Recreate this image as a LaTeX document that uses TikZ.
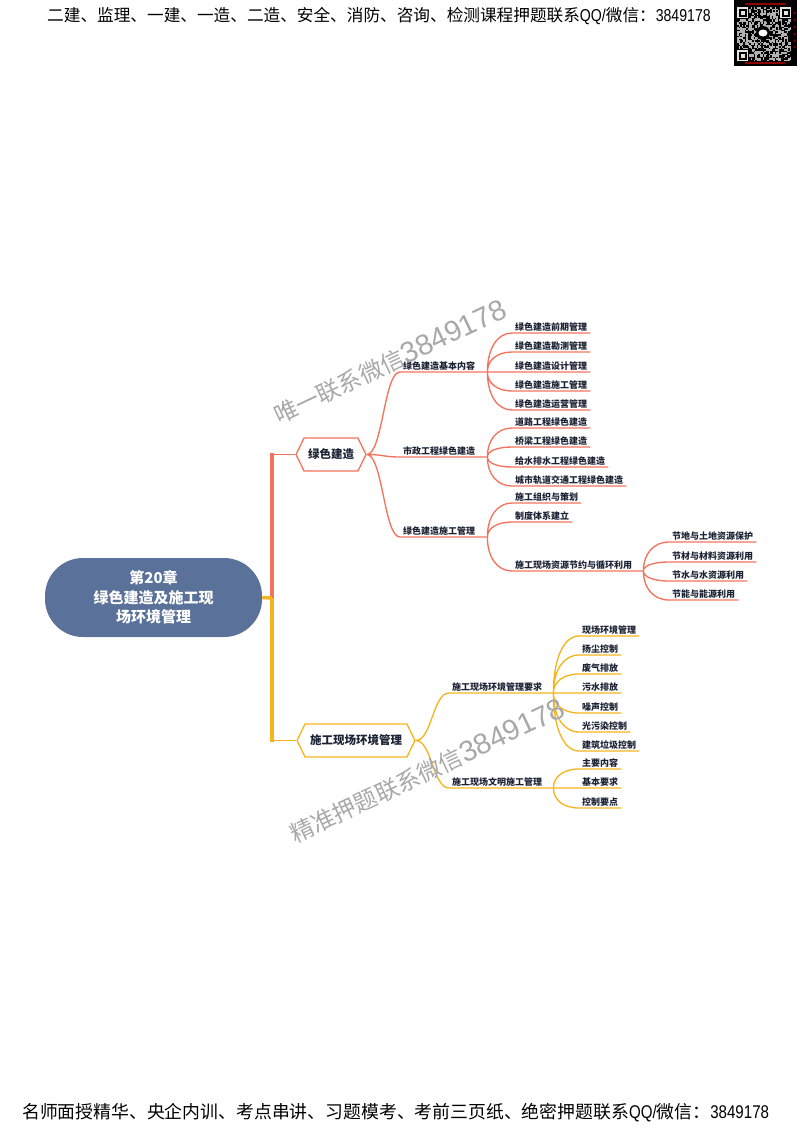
\documentclass[tikz,border=0pt]{standalone}
\usepackage{fontspec}
\usepackage{xcolor}
\usetikzlibrary{shapes.symbols, calc}
\setmainfont{Noto Sans CJK SC}
\newfontfamily\latincond{Liberation Sans}[FakeStretch=0.82]
\newfontfamily\latinsans{Liberation Sans}
\definecolor{rootblue}{HTML}{5A7199}
\definecolor{redline}{HTML}{F4735F}
\definecolor{yellowline}{HTML}{F6B51E}
\definecolor{inkdark}{HTML}{1B2233}
\definecolor{markgray}{HTML}{A8A8A8}
\tikzset{
  root/.style={fill=rootblue, text=white, rounded corners=38pt, minimum width=217pt, minimum height=79pt, align=center, font=\fontsize{15}{19.5}\selectfont\bfseries, inner sep=0pt},
  hexbox/.style={signal, signal to=west and east, signal pointer angle=128, fill=white, line width=1.3pt, minimum height=33pt, inner xsep=2pt, inner ysep=0pt, text=inkdark, font=\fontsize{11.5}{13}\selectfont\bfseries},
  leaf/.style={anchor=south west, inner xsep=3pt, inner ysep=1.5pt, text=inkdark, font=\fontsize{9}{10}\selectfont\bfseries},
  branch/.style={to path={.. controls +(16,0) and +(-16,0) .. (\tikztotarget.south west) -- (\tikztotarget.south east)}},
  forkline/.style={to path={.. controls ($(\tikztostart)!0.6!(\tikztostart |- \tikztotarget.south west)$) and ($(\tikztotarget.south west)!0.6!(\tikztostart |- \tikztotarget.south west)$) .. (\tikztotarget.south west) -- (\tikztotarget.south east)}},
  redthin/.style={draw=redline, line width=1.35pt},
  yellowthin/.style={draw=yellowline, line width=1.35pt},
  watermark/.style={anchor=south west, rotate=25.3, text=markgray, inner sep=0pt},
  banner/.style={anchor=west, inner sep=0pt, text=black}
}
\begin{document}
\begin{tikzpicture}[x=1pt, y=1pt]
\useasboundingbox (0,0) rectangle (800,-1130);

% banners
\node[banner, font=\fontsize{16.65}{18}\selectfont] (topline) at (47,-16) {二建、监理、一建、一造、二造、安全、消防、咨询、检测课程押题联系{\latincond\fontsize{17.2}{18}\selectfont QQ/}微信：{\latincond\fontsize{17.2}{18}\selectfont 3849178}};
\node[banner, font=\fontsize{17.85}{19}\selectfont] (bottomline) at (22,-1113) {名师面授精华、央企内训、考点串讲、习题模考、考前三页纸、绝密押题联系{\latincond\fontsize{18.4}{19}\selectfont QQ/}微信：{\latincond\fontsize{18.4}{19}\selectfont 3849178}};

% qr code
\fill[black] (734,0) rectangle (797,-66);
\pgfmathsetseed{20}
\foreach \i in {0,...,35}{
  \foreach \j in {0,...,35}{
    \pgfmathparse{rnd>0.5 ? 1 : 0}
    \ifnum\pgfmathresult=1
      \fill[white!70!black] ({737+\i*1.5},{-7-\j*1.5}) rectangle ++(1.5,-1.5);
    \fi
  }
}
\foreach \a/\b in {737/-7,780/-7,737/-50}{
  \fill[black] (\a-1,\b+1) rectangle ++(13,-13);
  \fill[white!90!black] (\a,\b) rectangle ++(11,-11);
  \fill[black] (\a+1.5,\b-1.5) rectangle ++(8,-8);
  \fill[white!90!black] (\a+3.5,\b-3.5) rectangle ++(4,-4);
}
\fill[black] (763,-33) circle (7);
\fill[white] (763,-33) ellipse (4.5 and 3.5);
\fill[red!55!black] (745,-2.5) rectangle (785,-4.5);
\fill[red!55!black] (745,-62) rectangle (785,-64);
\foreach \k in {13,20,27,34,41,47}{
  \fill[red!60!black] (794.5,-\k) circle (1);
}

% center and hexagons
\node[root] (chapter) at (153.5,-597.5) {第20章\\绿色建造及施工现\\场环境管理};
\node[hexbox, draw=redline, minimum width=70pt] (green) at (331,-454.5) {绿色建造};
\node[hexbox, draw=yellowline, minimum width=118pt] (site) at (356,-740.5) {施工现场环境管理};

\coordinate (joint) at (272,-598);
\coordinate (greencorner) at (joint |- green.west);
\coordinate (sitecorner) at (joint |- site.west);

\draw[redline, line width=3.5pt] (joint) -- ([yshift=1.75pt]greencorner);
\draw[yellowline, line width=3.5pt] (chapter.east) -- (joint);
\draw[yellowline, line width=3.5pt] (joint) -- ([yshift=-1.75pt]sitecorner);
\draw[redline, line width=1.5pt] (greencorner) -- (green.west);
\draw[yellowline, line width=1.5pt] (sitecorner) -- (site.west);

% red side
\node[leaf, text width=81pt] (basic) at (400,-372) {绿色建造基本内容};
\node[leaf, text width=81pt] (civil) at (400,-457) {市政工程绿色建造};
\node[leaf, text width=81pt] (build) at (400,-537) {绿色建造施工管理};

\node[leaf] (b1) at (512,-333) {绿色建造前期管理};
\node[leaf] (b2) at (512,-352) {绿色建造勘测管理};
\node[leaf] (b3) at (512,-372) {绿色建造设计管理};
\node[leaf] (b4) at (512,-391) {绿色建造施工管理};
\node[leaf] (b5) at (512,-410) {绿色建造运营管理};

\node[leaf] (c1) at (512,-428) {道路工程绿色建造};
\node[leaf] (c2) at (512,-447) {桥梁工程绿色建造};
\node[leaf] (c3) at (512,-467) {给水排水工程绿色建造};
\node[leaf] (c4) at (512,-486) {城市轨道交通工程绿色建造};

\node[leaf] (d1) at (512,-503) {施工组织与策划};
\node[leaf] (d2) at (512,-522) {制度体系建立};
\node[leaf, text width=125pt] (d3) at (512,-571) {施工现场资源节约与循环利用};

\node[leaf] (e1) at (669,-542) {节地与土地资源保护};
\node[leaf] (e2) at (669,-562) {节材与材料资源利用};
\node[leaf] (e3) at (669,-581) {节水与水资源利用};
\node[leaf] (e4) at (669,-600) {节能与能源利用};

\draw[redthin] (green.east) to[branch] (basic)
               (green.east) to[branch] (civil)
               (green.east) to[branch] (build);
\draw[redthin] (basic.south east) to[forkline] (b1)
               (basic.south east) to[forkline] (b2)
               (basic.south east) to[forkline] (b3)
               (basic.south east) to[forkline] (b4)
               (basic.south east) to[forkline] (b5);
\draw[redthin] (civil.south east) to[forkline] (c1)
               (civil.south east) to[forkline] (c2)
               (civil.south east) to[forkline] (c3)
               (civil.south east) to[forkline] (c4);
\draw[redthin] (build.south east) to[forkline] (d1)
               (build.south east) to[forkline] (d2)
               (build.south east) to[forkline] (d3);
\draw[redthin] (d3.south east) to[forkline] (e1)
               (d3.south east) to[forkline] (e2)
               (d3.south east) to[forkline] (e3)
               (d3.south east) to[forkline] (e4);

% yellow side
\node[leaf, text width=98pt] (rules) at (449,-693) {施工现场环境管理要求};
\node[leaf, text width=98pt] (civilized) at (449,-788) {施工现场文明施工管理};

\node[leaf] (f1) at (579,-636) {现场环境管理};
\node[leaf] (f2) at (579,-655) {扬尘控制};
\node[leaf] (f3) at (579,-674) {废气排放};
\node[leaf] (f4) at (579,-693) {污水排放};
\node[leaf] (f5) at (579,-713) {噪声控制};
\node[leaf] (f6) at (579,-732) {光污染控制};
\node[leaf] (f7) at (579,-751) {建筑垃圾控制};

\node[leaf] (g1) at (579,-769) {主要内容};
\node[leaf] (g2) at (579,-788) {基本要求};
\node[leaf] (g3) at (579,-808) {控制要点};

\draw[yellowthin] (site.east) to[branch] (rules)
                  (site.east) to[branch] (civilized);
\draw[yellowthin] (rules.south east) to[forkline] (f1)
                  (rules.south east) to[forkline] (f2)
                  (rules.south east) to[forkline] (f3)
                  (rules.south east) to[forkline] (f4)
                  (rules.south east) to[forkline] (f5)
                  (rules.south east) to[forkline] (f6)
                  (rules.south east) to[forkline] (f7);
\draw[yellowthin] (civilized.south east) to[forkline] (g1)
                  (civilized.south east) to[forkline] (g2)
                  (civilized.south east) to[forkline] (g3);

% watermarks
\node[watermark, font=\fontsize{23.5}{26}\selectfont\mdseries] (markone) at (280,-427) {唯一联系微信{\latinsans\fontsize{29}{30}\selectfont 3849178}};
\node[watermark, font=\fontsize{23.5}{26}\selectfont\mdseries] (marktwo) at (296,-846) {精准押题联系微信{\latinsans\fontsize{29}{30}\selectfont 3849178}};
\end{tikzpicture}
\end{document}
